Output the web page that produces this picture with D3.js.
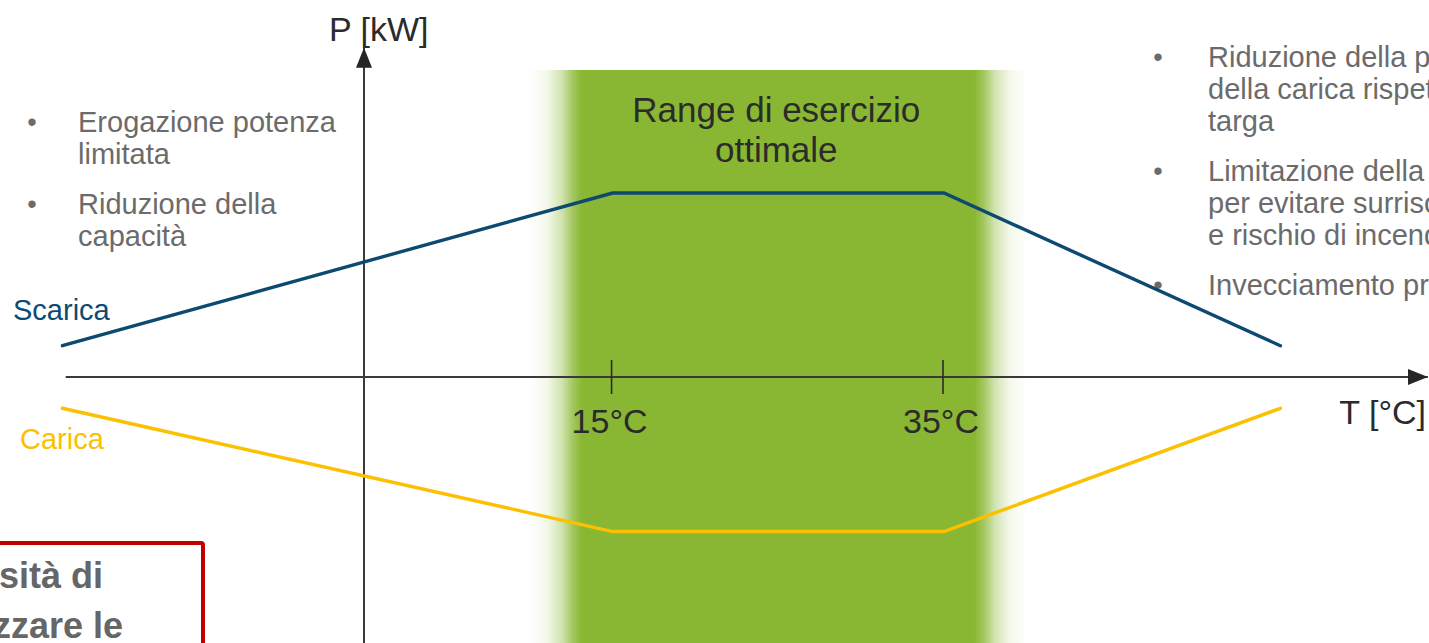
<!DOCTYPE html>
<html>
<head>
<meta charset="utf-8">
<script src="https://cdn.jsdelivr.net/npm/d3@7/dist/d3.min.js"></script>
<style>
  html, body { margin: 0; padding: 0; background: #fff; overflow: hidden; }
  svg { display: block; }
  text { font-family: "Liberation Sans", Arial, Helvetica, sans-serif; }
</style>
</head>
<body>
<svg id="chart" width="1429" height="643"></svg>
<script>
// Breakpoints of the power curves (temperature in °C)
const temps = [-18.2, 15, 35, 55.3];
// Discharge power (positive) and charge power (negative), arbitrary kW units
const scaricaPower = [17, 100, 100, 17];
const caricaPower = [-17, -84, -84, -17];
// Marked temperatures on the T axis
const tickTemps = [15, 35];
const tickLabels = ["15°C", "35°C"];
// Optimal operating window (with soft edges)
const bandTemps = [10, 40];
// Axis extents
const xAxisTemps = [-18, 64.2];
const yAxisPower = [-150, 179];

const leftNotes = [
  ["Erogazione potenza", "limitata"],
  ["Riduzione della", "capacità"]
];
const rightNotes = [
  ["Riduzione della potenza", "della carica rispetto ai dati di", "targa"],
  ["Limitazione della potenza", "per evitare surriscaldamento", "e rischio di incendio"],
  ["Invecciamento precoce"]
];
const boxLines = ["Necessità di", "climatizzare le"];

const svg = d3.select("#chart");
const W = 1429, H = 643;

const x = d3.scaleLinear().domain([0, 35]).range([364, 944]);
const y = d3.scaleLinear().domain([0, 100]).range([377, 193]);

const defs = svg.append("defs");

// Horizontal fade for the optimal-range band
const grad = defs.append("linearGradient")
  .attr("id", "bandFade").attr("x1", "0").attr("x2", "1").attr("y1", "0").attr("y2", "0");
[[0, 0], [0.035, 0.1], [0.065, 0.4], [0.088, 0.8], [0.105, 1],
 [0.895, 1], [0.912, 0.8], [0.935, 0.4], [0.965, 0.1], [1, 0]].forEach(([o, a]) => {
  grad.append("stop").attr("offset", o).attr("stop-color", "#8ab733").attr("stop-opacity", a);
});

defs.append("marker")
  .attr("id", "arrow").attr("viewBox", "0 0 20 16")
  .attr("refX", 20).attr("refY", 8)
  .attr("markerWidth", 20).attr("markerHeight", 16)
  .attr("markerUnits", "userSpaceOnUse")
  .attr("orient", "auto")
  .append("path").attr("d", "M0,0 L20,8 L0,16 Z").attr("fill", "#262626");

// Band
svg.append("rect")
  .attr("x", x(bandTemps[0])).attr("width", x(bandTemps[1]) - x(bandTemps[0]))
  .attr("y", 70).attr("height", H - 70)
  .attr("fill", "url(#bandFade)");

svg.append("text")
  .attr("x", x((tickTemps[0] + tickTemps[1]) / 2)).attr("y", 122)
  .attr("text-anchor", "middle").attr("font-size", 35).attr("fill", "#2b2b2b")
  .selectAll("tspan").data(["Range di esercizio", "ottimale"]).join("tspan")
  .attr("x", x((tickTemps[0] + tickTemps[1]) / 2) - 2)
  .attr("dy", (d, i) => i ? 40 : 0)
  .text(d => d);

// Side notes
function notes(list, bulletX, textX, firstBaseline, groupGap) {
  let base = firstBaseline;
  list.forEach(lines => {
    svg.append("text").attr("x", bulletX).attr("y", base - 1)
      .attr("font-size", 27).attr("fill", "#6b6b6b").attr("text-anchor", "middle").text("•");
    lines.forEach((ln, i) => {
      svg.append("text").attr("x", textX).attr("y", base + i * 32)
        .attr("font-size", 29).attr("fill", "#6b6b6b").text(ln);
    });
    base += lines.length * 32 + groupGap;
  });
}
notes(leftNotes, 32, 78, 132, 18);
notes(rightNotes, 1158, 1208, 67, 18);

// Axes
svg.append("line")
  .attr("x1", x(xAxisTemps[0])).attr("x2", x(xAxisTemps[1]))
  .attr("y1", y(0)).attr("y2", y(0))
  .attr("stroke", "#3a3a3a").attr("stroke-width", 2)
  .attr("marker-end", "url(#arrow)");
svg.append("line")
  .attr("x1", x(0)).attr("x2", x(0))
  .attr("y1", y(yAxisPower[0])).attr("y2", y(yAxisPower[1]))
  .attr("stroke", "#3a3a3a").attr("stroke-width", 2)
  .attr("marker-end", "url(#arrow)");

const xAxis = d3.axisBottom(x)
  .tickValues(tickTemps)
  .tickSize(17)
  .tickFormat((d, i) => tickLabels[i]);
const gx = svg.append("g").attr("transform", `translate(-1.5,${y(0)})`).call(xAxis);
gx.select(".domain").remove();
gx.selectAll(".tick line").attr("y1", -17).attr("stroke", "#2a2a2a").attr("stroke-width", 1.6);
gx.selectAll(".tick text")
  .attr("y", 56).attr("dy", 0).attr("dx", -2)
  .attr("font-size", 34).attr("fill", "#2b2b2b")
  .attr("font-family", "Liberation Sans, Arial, sans-serif");

svg.append("text").attr("x", 329).attr("y", 41)
  .attr("font-size", 34).attr("fill", "#2b2b2b").text("P [kW]");
svg.append("text").attr("x", 1426).attr("y", 424).attr("text-anchor", "end")
  .attr("font-size", 34).attr("fill", "#2b2b2b").text("T [°C]");

// Curves
const line = d3.line().x(d => x(d[0])).y(d => y(d[1]));
svg.append("path").datum(temps.map((t, i) => [t, scaricaPower[i]]))
  .attr("d", line).attr("fill", "none").attr("stroke", "#0c4a72")
  .attr("stroke-width", 3.4).attr("stroke-linecap", "round");
svg.append("path").datum(temps.map((t, i) => [t, caricaPower[i]]))
  .attr("d", line).attr("fill", "none").attr("stroke", "#fbc000")
  .attr("stroke-width", 3.4).attr("stroke-linecap", "round");

svg.append("text").attr("x", 13).attr("y", 320)
  .attr("font-size", 29).attr("fill", "#0c4a72").text("Scarica");
svg.append("text").attr("x", 20).attr("y", 449)
  .attr("font-size", 29).attr("fill", "#fbc000").text("Carica");

// Call-out box
svg.append("rect")
  .attr("x", -20).attr("y", 543).attr("width", 223).attr("height", 140)
  .attr("rx", 2).attr("fill", "#fff").attr("stroke", "#c00000").attr("stroke-width", 4);
boxLines.forEach((ln, i) => {
  svg.append("text").attr("x", i ? 123 : 103).attr("y", 588 + i * 50)
    .attr("text-anchor", "end").attr("font-size", 36).attr("font-weight", "bold")
    .attr("fill", "#666").text(ln);
});
</script>
</body>
</html>
